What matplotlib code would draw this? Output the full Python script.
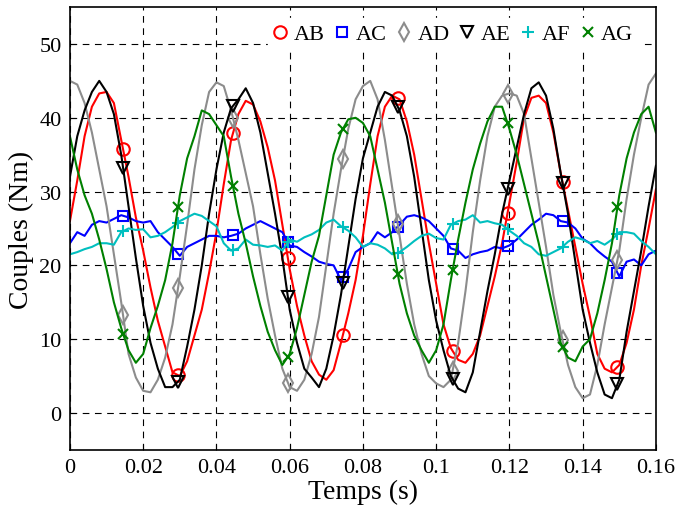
import numpy as np
import matplotlib.pyplot as plt
from matplotlib.lines import Line2D

plt.rcParams['font.family'] = ['Liberation Serif', 'DejaVu Serif']

# temps (s), un point toutes les 2 ms
t = np.linspace(0, 0.16, 81)

# couples (Nm)
ab = [26, 31.5, 37.5, 41.5, 43.3, 43.5, 42, 37, 32, 26.5, 22,
      17, 12.5, 9, 5.5, 5, 7, 10.5, 14, 19, 24.5,
      31, 37, 40.5, 42.3, 41.8, 39.5, 36, 31.5, 25.5, 19.5,
      14.5, 10.5, 7, 5.2, 4.5, 5.8, 9.5, 13.5, 18, 24,
      31, 37.5, 41.5, 43, 42.5, 39.5, 35, 29, 23, 17.5,
      12, 8.8, 7.2, 6.8, 8, 10.5, 14.5, 18.5, 23, 28.5,
      34, 40, 42.7, 43, 42, 38, 32.5, 27.5, 22.5, 17.5,
      13, 8, 6, 5.5, 6.5, 9.5, 14, 20, 25, 30.3]
ac = [23, 24.5, 24, 25.5, 26, 25.8, 26.3, 26.8, 26.5, 26, 25.8,
      26, 24.5, 23.5, 22.5, 21.3, 22.5, 23, 23.5, 24, 24,
      23.8, 24, 24.3, 25, 25.5, 26, 25.5, 25, 24.5, 22.7,
      22.5, 21.8, 21.2, 20.5, 20.2, 20, 18, 19.5, 21.8, 22.5,
      23, 24.5, 23.8, 24.5, 25.5, 26.6, 26.8, 26.5, 26, 25,
      24, 22.3, 22, 21, 21.5, 21.8, 22, 22.5, 22.3, 22.7,
      23.5, 24.5, 25.5, 26.2, 27, 26.8, 26, 25.8, 25, 23.6,
      23, 22, 21.2, 20.5, 18.5, 20.5, 20.8, 20, 21.5, 22]
ad = [45, 44.5, 42, 38, 33, 28, 21.5, 15, 8, 4.8, 3,
      2.8, 4.5, 7.5, 12, 18.5, 25.5, 33, 39, 43.5, 44.8,
      44.3, 41, 37, 32.5, 28, 21.5, 15.5, 10.5, 6, 3.5,
      3, 4.5, 8, 13, 20, 27, 33, 38.5, 42.5, 44.3,
      45, 42.5, 37, 30.5, 24, 17.5, 12, 8, 5, 4,
      3.5, 4.5, 9.5, 16.5, 24.5, 31.5, 37.5, 41.5, 43, 43.3,
      43, 40.5, 34.5, 28.5, 22.5, 16, 11, 6.5, 3.5, 2,
      2.5, 6.5, 12, 17, 22, 29, 35, 40, 44.5, 46]
ae = [32, 37.5, 41, 43.5, 45, 43.5, 40.5, 35, 28, 21, 14.5,
      9.5, 6, 3.5, 3.5, 4.5, 9, 14, 20, 27, 33,
      38, 41.3, 42.5, 44, 42, 38, 32.5, 27, 21, 14,
      9.5, 6, 4.8, 3.5, 6, 10.5, 16, 22.5, 29, 34.5,
      38, 41.5, 43.5, 43, 41, 37.5, 32, 25, 18, 12.5,
      8.5, 5, 3.3, 2.8, 5.5, 11, 16.5, 21.5, 27, 31.5,
      36, 40.5, 44, 44.8, 43, 38.5, 32.5, 27, 20.5, 14,
      9.5, 5.5, 2.5, 2, 4.5, 11, 16.5, 22, 28, 33.5]
af = [21.5, 21.8, 22.2, 22.5, 23, 23, 22.8, 24.5, 25, 24.8, 24.9,
      23.8, 24, 24.5, 25.2, 26, 26.5, 27, 26.7, 26, 25.3,
      23, 22, 22.3, 23.5, 22.8, 22.7, 22.5, 22.7, 22, 23.5,
      23.2, 23.8, 24.2, 24.8, 25.8, 26.2, 25.3, 24.7, 23.8, 22.5,
      23, 22.8, 22.3, 21.5, 21.8, 22.5, 23.3, 24, 24.3, 23.7,
      23.5, 25.5, 26, 26.2, 26.8, 25.8, 26, 25.7, 25.5, 24.7,
      24, 23, 22.5, 21.5, 21.3, 21.8, 22.3, 23.2, 23.8, 23.5,
      23, 23.3, 22.8, 23.5, 24.5, 24.5, 24.3, 23.3, 22.5, 21.5]
ag = [37.5, 33, 29.5, 27, 23.5, 19.5, 15, 11.5, 8.5, 6.8, 8,
      11.5, 14.5, 18, 23, 29.5, 34.5, 37.5, 41, 40.5, 39,
      37.5, 32, 27, 23, 18.5, 14.5, 11, 8.5, 6.5, 8,
      11.5, 16, 20.5, 24, 29.5, 35, 38, 39.8, 40, 39.3,
      37.5, 33, 28.5, 23, 17.5, 13.5, 10.5, 8.5, 6.8, 8.5,
      12, 18, 23.5, 28.5, 33, 36.5, 39.5, 41.5, 41.5, 38.5,
      35, 31, 27, 23, 18.5, 14, 9.5, 7.5, 7, 9,
      10, 13.5, 18, 23, 29.5, 34.5, 38, 40.5, 41.5, 38]

# instants des marqueurs
t_mark = [0.0145, 0.0295, 0.0445, 0.0595, 0.0745,
          0.0895, 0.1045, 0.1195, 0.1345, 0.1495]

noms = ['AB', 'AC', 'AD', 'AE', 'AF', 'AG']
couleurs = ['#ff0000', '#0000ff', '#8c8c8c', '#000000', '#00bfbf', '#008000']
marqueurs = ['o', 's', 'd', 'v', '+', 'x']
tailles = [9, 7.5, 9, 9, 8, 7]

fig = plt.figure(figsize=(6.79, 5.06), dpi=100)
ax = fig.add_axes([0.103, 0.109, 0.863, 0.875])

poignees = []
for nom, y, c, m, s in zip(noms, [ab, ac, ad, ae, af, ag], couleurs, marqueurs, tailles):
    ax.plot(t, y, color=c, lw=1.5)
    ax.plot(t_mark, np.interp(t_mark, t, y), ls='none', marker=m,
            mfc='none', mec=c, ms=s, mew=1.5)
    poignees.append(Line2D([], [], ls='none', marker=m, mfc='none',
                           mec=c, ms=s, mew=1.5))

ax.set_xlim(0, 0.16)
ax.set_ylim(-5, 55)
ax.set_xticks(np.arange(0, 0.161, 0.02))
ax.set_xticklabels(['0', '0.02', '0.04', '0.06', '0.08', '0.1', '0.12', '0.14', '0.16'])
ax.set_yticks(range(0, 51, 10))
ax.tick_params(direction='in', labelsize=16, length=4, pad=6)
ax.grid(True, color='black', ls=(0, (6, 5)), lw=0.8)
ax.set_axisbelow(True)
for sp in ax.spines.values():
    sp.set_linewidth(1.2)

ax.set_xlabel('Temps (s)', fontsize=20, labelpad=1)
ax.set_ylabel('Couples (Nm)', fontsize=20, labelpad=4)

leg = ax.legend(poignees, noms, ncol=6, loc='upper right',
                bbox_to_anchor=(0.99, 1.0), fontsize=16,
                handlelength=0.6, handletextpad=0.3, columnspacing=0.5,
                borderpad=0.25, fancybox=False, framealpha=1,
                edgecolor='white')

fig.savefig('out.png', dpi=100)
